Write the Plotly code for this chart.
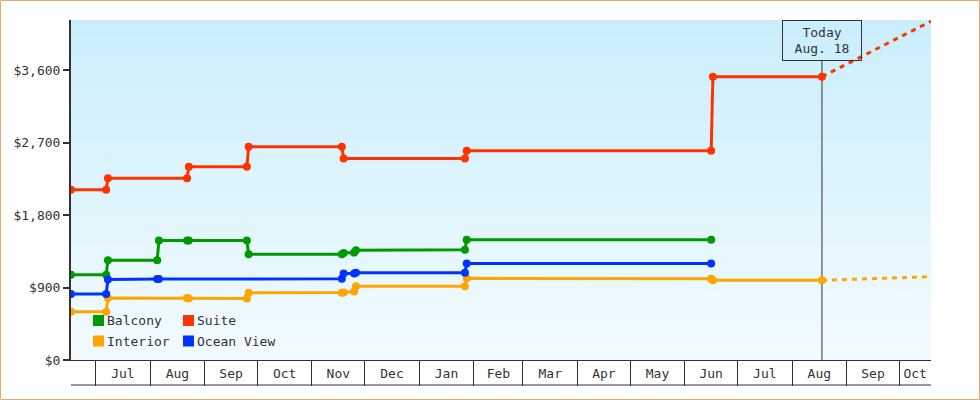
import pandas as pd
import plotly.graph_objects as go

# ---------------- data ----------------
range_start = "2012-06-17"
range_end = "2013-10-19"
today = "2013-08-18"
today_label = "Today<br>Aug. 18"

balcony_dates = ["2012-06-17", "2012-07-07", "2012-07-08", "2012-08-05", "2012-08-06",
                 "2012-08-22", "2012-08-23", "2012-09-25", "2012-09-26", "2012-11-18",
                 "2012-11-19", "2012-11-25", "2012-11-26", "2013-01-27", "2013-01-28",
                 "2013-06-16"]
balcony_prices = [1060, 1060, 1240, 1240, 1485, 1485, 1485, 1485, 1315, 1315,
                  1330, 1335, 1365, 1370, 1495, 1495]

suite_dates = ["2012-06-17", "2012-07-07", "2012-07-08", "2012-08-22", "2012-08-23",
               "2012-09-25", "2012-09-26", "2012-11-18", "2012-11-19", "2013-01-27",
               "2013-01-28", "2013-06-16", "2013-06-17", "2013-08-18"]
suite_prices = [2115, 2115, 2260, 2260, 2400, 2400, 2650, 2650, 2505, 2505,
                2600, 2600, 3520, 3520]

interior_dates = ["2012-06-17", "2012-07-07", "2012-07-08", "2012-08-22", "2012-08-23",
                  "2012-09-25", "2012-09-26", "2012-11-18", "2012-11-19", "2012-11-25",
                  "2012-11-26", "2013-01-27", "2013-01-28", "2013-06-16", "2013-06-17",
                  "2013-08-18"]
interior_prices = [600, 600, 770, 770, 765, 765, 835, 835, 838, 850,
                   915, 915, 1015, 1010, 990, 990]

ocean_dates = ["2012-06-17", "2012-07-07", "2012-07-08", "2012-08-05", "2012-08-06",
               "2012-11-18", "2012-11-19", "2012-11-25", "2012-11-26", "2013-01-27",
               "2013-01-28", "2013-06-16"]
ocean_prices = [820, 820, 1000, 1005, 1005, 1010, 1075, 1075, 1085, 1085, 1200, 1200]

suite_proj_dates = ["2013-08-18", "2013-10-19"]
suite_proj_prices = [3520, 4210]
interior_proj_dates = ["2013-08-18", "2013-10-19"]
interior_proj_prices = [990, 1035]

y_ticks = [0, 900, 1800, 2700, 3600]
y_tick_labels = ["$0", "$900", "$1,800", "$2,700", "$3,600"]
y_max = 4225

series_names = ["Balcony", "Suite", "Interior", "Ocean View"]
series_colors = {"Balcony": "#009900", "Suite": "#ff3300",
                 "Interior": "#ffa500", "Ocean View": "#0033ff"}

# ---------------- layout geometry ----------------
W, H = 980, 400
ML, MR, MT, MB = 71, 49, 20, 40
PW, PH = W - ML - MR, H - MT - MB
TXT = "#333333"
FONT = "DejaVu Sans Mono"


def px(xp):
    return (xp - ML) / PW


def py(yp):
    return (MT + PH - yp) / PH


fig = go.Figure()

series = [("Balcony", balcony_dates, balcony_prices),
          ("Suite", suite_dates, suite_prices),
          ("Interior", interior_dates, interior_prices),
          ("Ocean View", ocean_dates, ocean_prices)]

for name, d, p in series:
    fig.add_trace(go.Scatter(
        x=d, y=p, name=name, mode="lines+markers",
        line=dict(color=series_colors[name], width=3),
        marker=dict(color=series_colors[name], size=8, symbol="circle"),
        showlegend=False,
    ))

for name, d, p in [("Suite", suite_proj_dates, suite_proj_prices),
                   ("Interior", interior_proj_dates, interior_proj_prices)]:
    fig.add_trace(go.Scatter(
        x=d, y=p, name=name + " (projected)", mode="lines",
        line=dict(color=series_colors[name], width=3, dash="5px,5px"),
        showlegend=False,
    ))

# month label positions: centre of each visible month segment whose start is in range
rs, re_ = pd.Timestamp(range_start), pd.Timestamp(range_end)
label_vals, label_text = [], []
for ms in pd.date_range(rs, re_, freq="MS"):
    nxt = min(ms + pd.offsets.MonthBegin(1), re_)
    label_vals.append(ms + (nxt - ms) / 2)
    label_text.append(ms.strftime("%b"))

shapes = []
# background gradient
n_bands = 68
top_c = (202, 238, 252)
bot_c = (243, 251, 255)
for i in range(n_bands):
    t = i / (n_bands - 1)
    c = tuple(round(top_c[k] + (bot_c[k] - top_c[k]) * t) for k in range(3))
    shapes.append(dict(type="rect", xref="paper", yref="paper", x0=0, x1=1,
                       y0=1 - (i + 1) / n_bands, y1=1 - i / n_bands,
                       fillcolor="rgb(%d,%d,%d)" % c, line=dict(width=0), layer="below"))
# today line
shapes.append(dict(type="line", xref="x", yref="paper", x0=today, x1=today,
                   y0=0, y1=py(61), line=dict(color=TXT, width=1), layer="below"))
# bottom line of month boxes
shapes.append(dict(type="line", xref="paper", yref="paper", x0=0, x1=1,
                   y0=py(385), y1=py(385), line=dict(color=TXT, width=1)))
# outer border
shapes.append(dict(type="rect", xref="paper", yref="paper",
                   x0=px(0.5), x1=px(W - 0.5), y0=py(H - 0.5), y1=py(0.5),
                   line=dict(color="#e8aa64", width=1)))

annotations = [dict(
    x=today, xref="x", y=1, yref="paper", yanchor="top", xanchor="center",
    text=today_label, showarrow=False, bordercolor=TXT, borderwidth=1, borderpad=1,
    width=76, height=37, align="center", font=dict(family=FONT, size=13, color=TXT),
)]

# custom legend (2 x 2)
leg_pos = {"Balcony": (93, 320.5), "Suite": (183, 320.5),
           "Interior": (93, 341), "Ocean View": (183, 341)}
for name in series_names:
    x0, yc = leg_pos[name]
    shapes.append(dict(type="rect", xref="paper", yref="paper",
                       x0=px(x0), x1=px(x0 + 11), y0=py(yc + 5.5), y1=py(yc - 5.5),
                       fillcolor=series_colors[name], line=dict(width=0)))
    annotations.append(dict(x=px(x0 + 12), y=py(yc), xref="paper", yref="paper",
                            xanchor="left", yanchor="middle", text=name, showarrow=False,
                            font=dict(family=FONT, size=13, color=TXT)))

fig.update_layout(
    width=W, height=H,
    margin=dict(l=ML, r=MR, t=MT, b=MB),
    paper_bgcolor="white", plot_bgcolor="white",
    font=dict(family=FONT, size=13, color=TXT),
    shapes=shapes, annotations=annotations,
    xaxis=dict(
        type="date", range=[range_start, range_end],
        tickmode="array", tickvals=label_vals, ticktext=label_text,
        ticks="outside", ticklen=1, tickcolor="rgba(0,0,0,0)",
        showgrid=False, zeroline=False,
        showline=True, linecolor=TXT, linewidth=1,
        minor=dict(ticks="outside", ticklen=25, tickwidth=1, tickcolor=TXT,
                   tickmode="linear", tick0="2012-07-01", dtick="M1", showgrid=False),
        tickfont=dict(family=FONT, size=13, color=TXT),
    ),
    yaxis=dict(
        range=[0, y_max], tickmode="array", tickvals=y_ticks, ticktext=y_tick_labels,
        ticks="outside", ticklen=6, tickwidth=2, tickcolor=TXT,
        showline=True, linecolor=TXT, linewidth=2,
        showgrid=False, zeroline=False,
        tickfont=dict(family=FONT, size=13, color=TXT),
    ),
    showlegend=False,
    hovermode="closest",
)

fig.write_html("out.html", config={"displayModeBar": False},
               post_script="document.body.style.margin='0';")
